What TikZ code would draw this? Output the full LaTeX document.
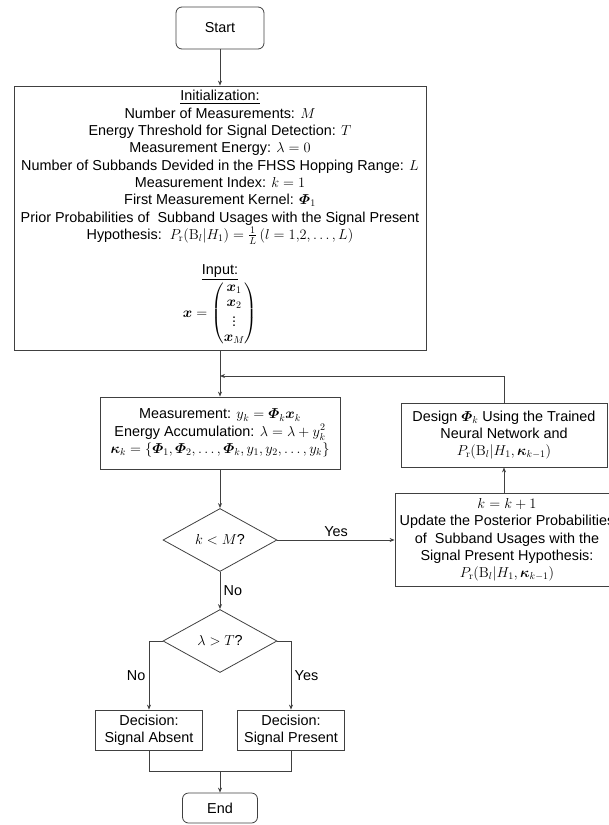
\documentclass[tikz,border=0pt]{standalone}
\usepackage{amsmath,bm}
\usepackage[no-math]{fontspec}
\setmainfont{Liberation Sans}
\usetikzlibrary{shapes.geometric,arrows.meta}

\begin{document}
\begin{tikzpicture}[
    x=1pt, y=-1pt,
    >={Stealth[length=5pt,width=4pt]},
    every node/.style={font=\fontsize{14.4}{17.3}\selectfont},
    line/.style={draw=black!75, line width=0.8pt},
    term/.style={line, rounded corners=6pt, minimum width=88pt, minimum height=42pt, inner sep=0pt},
    proc/.style={line, align=center, inner sep=0pt},
    cond/.style={line, diamond, minimum width=114pt, minimum height=63pt, inner sep=0pt}
]
\useasboundingbox (0,0) rectangle (609,825);

% Start and initialization
\node[term] (start) at (220,28) {Start};
\node[proc, below of=start, node distance=190pt, minimum width=412pt, minimum height=264pt] (init) {%
    \underline{Initialization:}\\
    Number of Measurements: $M$\\
    Energy Threshold for Signal Detection: $T$\\
    Measurement Energy: $\lambda=0$\\
    Number of Subbands Devided in the FHSS Hopping Range: $L$\\
    Measurement Index: $k=1$\\
    First Measurement Kernel: $\bm{\varPhi}_1$\\
    Prior Probabilities of\ \ Subband Usages with the Signal Present\\
    Hypothesis:\ \ $P_{\mathrm{r}}(\mathrm{B}_l|H_1)=\frac{1}{L}\,(l=1{,}2,\dots,L)$\\[18pt]
    \underline{Input:}\\
    $\bm{x}=\renewcommand{\arraystretch}{0.85}\begin{pmatrix}\bm{x}_1\\ \bm{x}_2\\ \vdots\\ \bm{x}_M\end{pmatrix}$};

% Measurement loop
\node[proc, below of=init, node distance=215pt, minimum width=240pt, minimum height=72pt] (meas) {%
    Measurement: $y_k=\bm{\varPhi}_k\bm{x}_k$\\
    Energy Accumulation: $\lambda=\lambda+y_k^2$\\
    $\bm{\kappa}_k=\{\bm{\varPhi}_1,\bm{\varPhi}_2,\dots,\bm{\varPhi}_k,y_1,y_2,\dots,y_k\}$};
\node[cond, below of=meas, node distance=107pt] (kless) {$k<M$?};
\node[proc, right of=kless, node distance=287pt, minimum width=224pt, minimum height=93pt] (update) {%
    $k=k+1$\\
    Update the Posterior Probabilities\\
    of\ \ Subband Usages with the\\
    Signal Present Hypothesis:\\
    $P_{\mathrm{r}}(\mathrm{B}_l|H_1,\bm{\kappa}_{k-1})$};
\node[proc, above of=update, node distance=105pt, xshift=-3pt, minimum width=206pt, minimum height=64pt] (design) {%
    Design $\bm{\varPhi}_k$ Using the Trained\\
    Neural Network and\\
    $P_{\mathrm{r}}(\mathrm{B}_l|H_1,\bm{\kappa}_{k-1})$};
\coordinate (loop) at (220,376);

% Decision
\node[cond, below of=kless, node distance=101pt] (lgt) {$\lambda>T$?};
\node[proc, below of=lgt, node distance=89pt, xshift=-71pt, minimum width=107pt, minimum height=40pt] (absent) {Decision:\\Signal Absent};
\node[proc, below of=lgt, node distance=89pt, xshift=71pt, minimum width=107pt, minimum height=40pt] (present) {Decision:\\Signal Present};
\coordinate (merge) at (220,771);
\node[term, below of=lgt, node distance=167pt, minimum width=75pt, minimum height=30pt] (end) {End};

% Arêtes
\draw[line, ->] (start) -- (init);
\draw[line, ->] (init) -- (meas);
\draw[line, ->] (design.north |- update.north) -- (design.north |- design.south);
\draw[line, ->] (design.north |- design.north) |- (loop);
\draw[line, ->] (meas) -- (kless);
\draw[line, ->] (kless) -- node[above] {Yes} (update);
\draw[line, ->] (kless) -- node[right] {No} (lgt);
\draw[line, ->] (lgt.west) -| node[pos=0.75, left] {No} (absent.north);
\draw[line, ->] (lgt.east) -| node[pos=0.75, right] {Yes} (present.north);
\draw[line] (absent.south) |- (merge);
\draw[line] (present.south) |- (merge);
\draw[line, ->] (merge) -- (end);

\end{tikzpicture}
\end{document}
